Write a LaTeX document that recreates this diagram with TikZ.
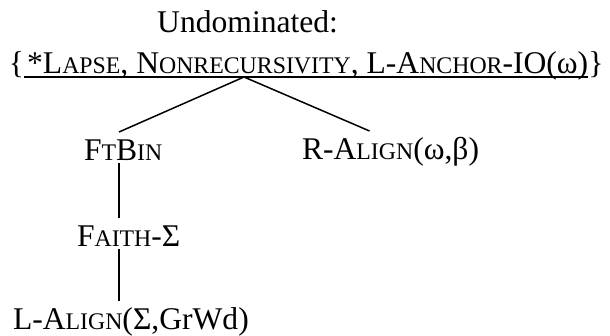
\documentclass[tikz,border=0pt]{standalone}
\usepackage{fontspec}
\setmainfont{Liberation Serif}
\usetikzlibrary{positioning}
\newcommand{\smc}[1]{{\fontsize{23.8pt}{29pt}\selectfont\MakeUppercase{#1}}}

\begin{document}
\begin{tikzpicture}[
        x=1pt, y=-1pt,
        font=\fontsize{31.6pt}{38pt}\selectfont,
        con/.style={inner sep=0pt, outer sep=0pt, anchor=base west, text height=28pt, text depth=3pt},
        setpart/.style={inner sep=0pt, outer sep=0pt, text height=24pt, text depth=4pt},
        branch/.style={line width=1.5pt},
        ulrule/.style={line width=1.5pt}
    ]
        \useasboundingbox (0,0) rectangle (610,335);

        % Heading and the undominated set
        \node[inner sep=0pt, anchor=base west] (undom) at (157,32) {Undominated:};
        \node[setpart, anchor=base west] (lbrace) at (9,73) {\{};
        \node[setpart, right=0pt of lbrace] (setlist) {\kern3pt*L\smc{apse}, N\smc{onrecursivity}, L-A\smc{nchor}-IO(ω)};
        \node[setpart, right=0pt of setlist] (rbrace) {\}};
        \draw[ulrule] (setlist.south west) -- (setlist.south east);

        \coordinate (apex) at (244,77);
        \coordinate (trunk) at (119,0);

        % Constraints
        \node[con] (ftbin) at (84,160) {F\smc{t}B\smc{in}};
        \node[con] (ralign) at (302,159) {R-A\smc{lign}(ω,β)};
        \node[con] (faith) at (77,246) {F\smc{aith}-Σ};
        \node[con] (lalign) at (13,329) {L-A\smc{lign}(Σ,GrWd)};

        % Lines
        \draw[branch] (apex) -- (ftbin.north -| trunk);
        \draw[branch] (apex) -- ([xshift=-21pt]ralign.north);
        \draw[branch] (ftbin.south -| trunk) -- (faith.north -| trunk);
        \draw[branch] (faith.south -| trunk) -- (lalign.north -| trunk);
    \end{tikzpicture}
\end{document}
